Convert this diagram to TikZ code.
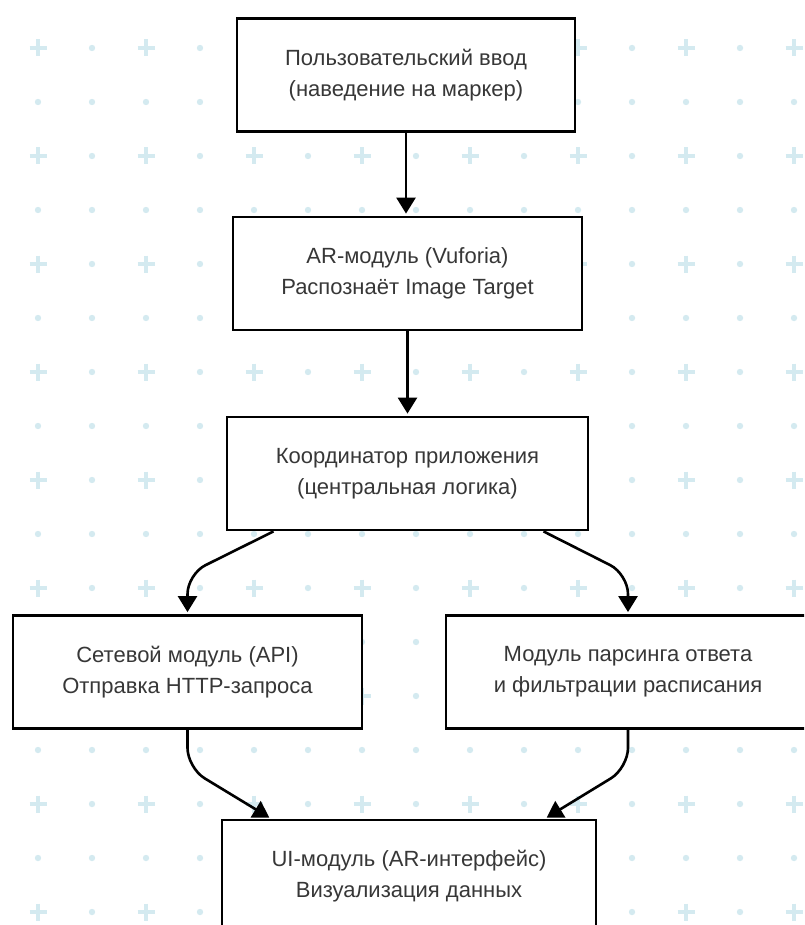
\documentclass[tikz,border=0pt]{standalone}
\usepackage{fontspec}
\setmainfont{Liberation Sans}
\usetikzlibrary{arrows.meta}
\definecolor{gridblue}{RGB}{212,234,240}
\definecolor{textgray}{RGB}{55,55,55}

\begin{document}
\begin{tikzpicture}[x=1pt, y=-1pt,
    box/.style={draw=black, line width=2.8pt, fill=white, align=center, text=textgray,
        font=\fontsize{22}{31}\selectfont, minimum height=113pt, inner sep=0pt},
    arr/.style={line width=2.6pt, -{Triangle[width=19pt,length=16pt]}, shorten >=2pt, rounded corners=20pt},
    gridplus/.style={draw=gridblue, line width=4pt},
]
    % Canvas
    \useasboundingbox (0,0) rectangle (804,925);
    \clip (0,0) rectangle (804,925);
    \fill[white] (0,0) rectangle (804,925);

    % Grid of dots and crosses
    \foreach \j in {0,...,16}{
        \foreach \k in {0,...,14}{
            \pgfmathtruncatemacro{\odd}{mod(\j,2)+mod(\k,2)}
            \ifnum\odd=0
                \draw[gridplus] (38+54*\k,48+54*\j) ++(-8.5,0) -- ++(17,0) ++(-8.5,-8.5) -- ++(0,17);
            \else
                \fill[gridblue] (38+54*\k,48+54*\j) circle (3.2pt);
            \fi
        }
    }

    % Boxes
    \node[box, minimum width=338pt] (UserInput) at (406,75) {Пользовательский ввод\\(наведение на маркер)};
    \node[box, minimum width=349pt] (ARModule) at (407.5,273.5) {AR-модуль (Vuforia)\\Распознаёт Image Target};
    \node[box, minimum width=361pt] (Coordinator) at (407.5,473.5) {Координатор приложения\\(центральная логика)};
    \node[box, minimum width=349pt] (NetModule) at (187.5,672) {Сетевой модуль (API)\\Отправка HTTP-запроса};
    \node[box, minimum width=364pt] (ParseModule) at (628,672) {Модуль парсинга ответа\\и фильтрации расписания};
    \node[box, minimum width=374pt] (UIModule) at (409,876.5) {UI-модуль (AR-интерфейс)\\Визуализация данных};

    % Arrows
    \draw[arr] (UserInput.south) -- (UserInput.south |- ARModule.north);
    \draw[arr] (ARModule.south) -- (ARModule.south |- Coordinator.north);
    \draw[arr] ([xshift=-134pt]Coordinator.south) -- ([yshift=40pt]NetModule.north) -- (NetModule.north);
    \draw[arr] ([xshift=136pt]Coordinator.south) -- ([yshift=40pt]ParseModule.north) -- (ParseModule.north);
    \draw[arr] (NetModule.south) -- ([yshift=-38pt]NetModule.south) -- ([xshift=-138pt]UIModule.north);
    \draw[arr] (ParseModule.south) -- ([yshift=-38pt]ParseModule.south) -- ([xshift=136pt]UIModule.north);
\end{tikzpicture}
\end{document}
